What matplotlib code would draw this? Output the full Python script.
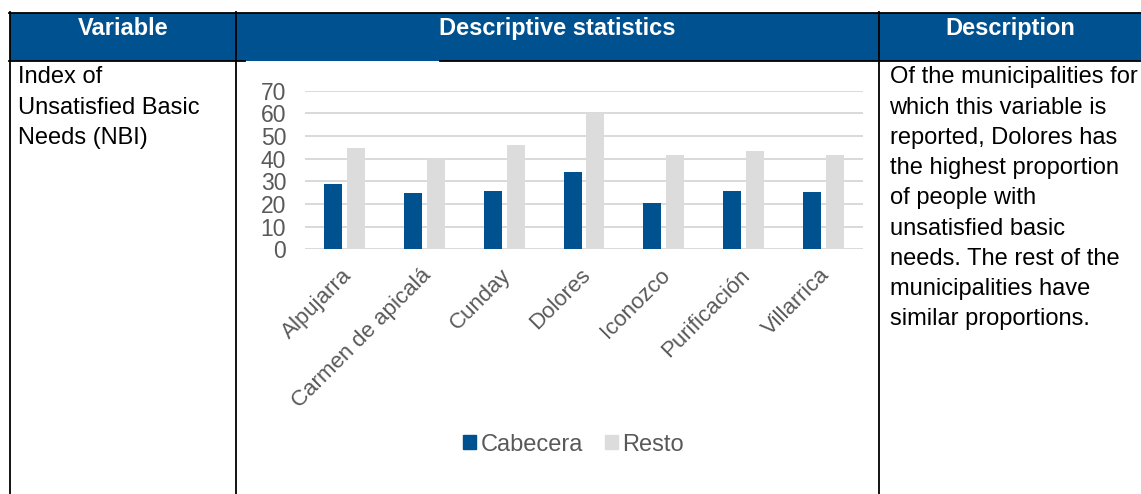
import matplotlib
matplotlib.use("Agg")
import matplotlib.pyplot as plt
from matplotlib.patches import Rectangle, Patch
from matplotlib.transforms import ScaledTranslation
import numpy as np

# ---- data ----
categories = ["Alpujarra", "Carmen de apicalá", "Cunday", "Dolores",
              "Iconozco", "Purificación", "Villarrica"]
cabecera = [28.7, 25.0, 25.6, 34.1, 20.4, 25.7, 25.3]
resto = [44.8, 40.0, 46.0, 60.0, 41.6, 43.5, 41.6]
yticks = [0, 10, 20, 30, 40, 50, 60, 70]
series_names = ["Cabecera", "Resto"]
headers = ["Variable", "Descriptive statistics", "Description"]
variable_lines = ["Index of", "Unsatisfied Basic", "Needs (NBI)"]
description_lines = ["Of the municipalities for", "which this variable is",
                     "reported, Dolores has", "the highest proportion",
                     "of people with", "unsatisfied basic",
                     "needs. The rest of the", "municipalities have",
                     "similar proportions."]

BLUE = "#00518F"
GRAY = "#DCDCDC"
TXT = "#595959"
FONT = "Liberation Sans"

W, H = 1141, 494
fig = plt.figure(figsize=(W / 100, H / 100), dpi=100)

# ---- table background / structure (pixel coordinates) ----
bg = fig.add_axes([0, 0, 1, 1])
bg.set_xlim(0, W)
bg.set_ylim(H, 0)
bg.axis("off")

bg.add_patch(Rectangle((10, 13), W - 10, 48, color=BLUE, lw=0, zorder=1))
lw = 1.3
bg.plot([9, W], [13, 13], color="black", lw=lw, zorder=3)
bg.plot([9, 245], [61, 61], color="black", lw=lw, zorder=3)
bg.plot([440, W], [61, 61], color="black", lw=lw, zorder=3)
for xv in [10, 236, 879]:
    bg.plot([xv, xv], [12, H], color="black", lw=lw, zorder=3)

hx = [123, 557.5, 1010]
for xv, t in zip(hx, headers):
    bg.text(xv, 35, t, ha="center", va="baseline", color="white",
            fontsize=17, fontweight="bold", family=FONT, zorder=4)

for i, t in enumerate(variable_lines):
    bg.text(18.5, 83.3 + 30.3 * i, t, ha="left", va="baseline",
            color="black", fontsize=17, family=FONT)
for i, t in enumerate(description_lines):
    bg.text(889.5, 83.3 + 30.25 * i, t, ha="left", va="baseline",
            color="black", fontsize=17, family=FONT)

# ---- chart ----
x0, x1 = 305, 863
ytop, ybot = 90.7, 249.3
ax = fig.add_axes([x0 / W, 1 - ybot / H, (x1 - x0) / W, (ybot - ytop) / H])
ax.set_facecolor("none")
x = np.arange(len(categories))
bw = 0.226
off = 0.144
ax.bar(x - off, cabecera, bw, color=BLUE, label=series_names[0], zorder=2)
ax.bar(x + off, resto, bw, color=GRAY, label=series_names[1], zorder=2)
ax.set_xlim(-0.5, len(categories) - 0.5)
ax.set_ylim(0, 70)
ax.set_yticks(yticks)
ax.set_yticklabels([str(v) for v in yticks], family=FONT, fontsize=16.5,
                   color=TXT)
ax.yaxis.grid(True, color="#D9D9D9", lw=1.4, zorder=0)
ax.set_axisbelow(True)
for s in ax.spines.values():
    s.set_visible(False)
ax.tick_params(axis="y", length=0, pad=13.5)
ax.tick_params(axis="x", length=0, pad=11)
ax.set_xticks(x)
ax.set_xticklabels(categories, rotation=45, ha="right", va="top",
                   rotation_mode="anchor", family=FONT, fontsize=16,
                   color=TXT)
shift = ScaledTranslation(-4 / 100, 0, fig.dpi_scale_trans)
for lab in ax.get_xticklabels():
    lab.set_transform(lab.get_transform() + shift)

handles = [Patch(color=BLUE), Patch(color=GRAY)]
leg = fig.legend(handles, series_names, loc="center",
                 bbox_to_anchor=(573.5 / W, 1 - 444.5 / H), ncol=2,
                 frameon=False, handlelength=0.54, handleheight=0.54,
                 handletextpad=0.2, columnspacing=0.95, borderpad=0,
                 prop={"family": FONT, "size": 17})
for t in leg.get_texts():
    t.set_color(TXT)

fig.savefig("out.png", dpi=100)
